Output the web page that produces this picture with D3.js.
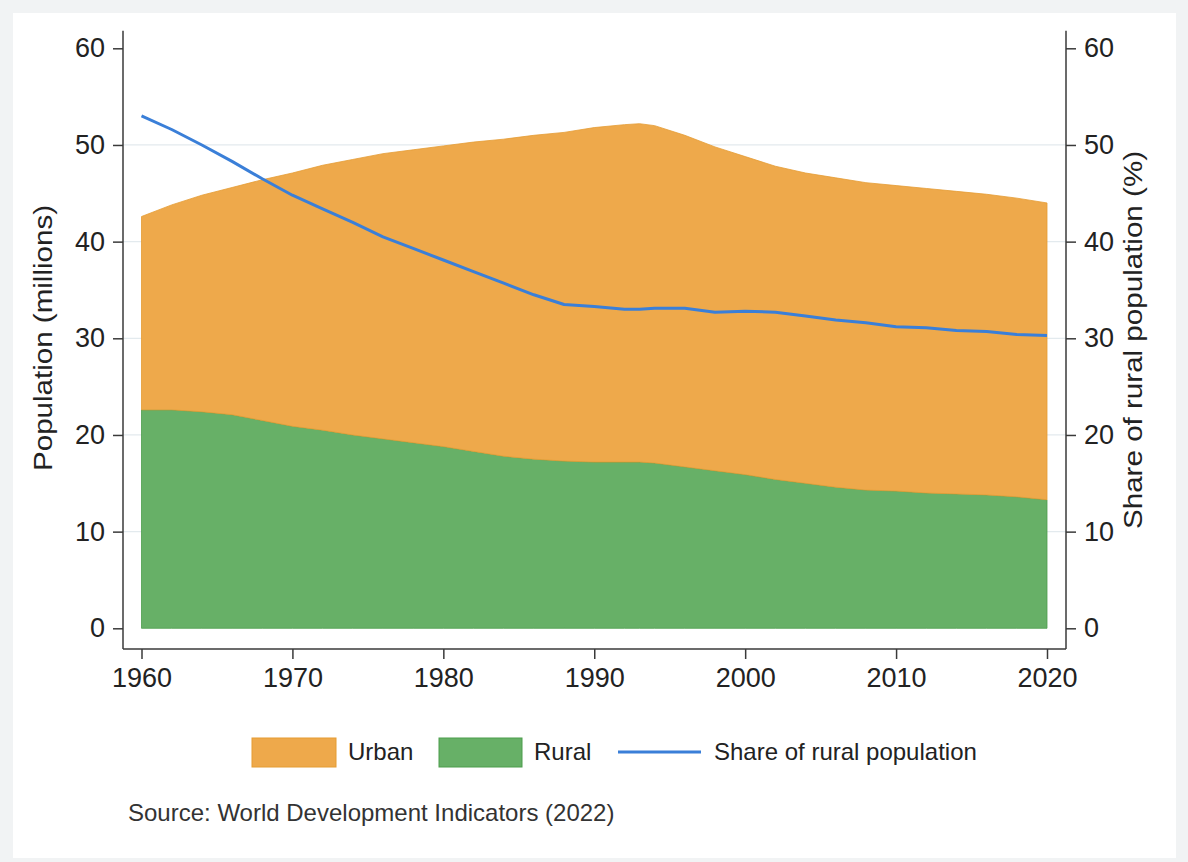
<!DOCTYPE html>
<html>
<head>
<meta charset="utf-8">
<script src="https://cdn.jsdelivr.net/npm/d3@7"></script>
<style>
  html, body { margin: 0; padding: 0; background: #f1f3f4; }
  svg { display: block; font-family: "Liberation Sans", Arial, Helvetica, sans-serif; }
</style>
</head>
<body>
<svg id="chart" width="1188" height="862"></svg>
<script>
// ---- Data ----
const years = [1960,1962,1964,1966,1968,1970,1972,1974,1976,1978,1980,1982,1984,1986,1988,1990,1992,1993,1994,1996,1998,2000,2002,2004,2006,2008,2010,2012,2014,2016,2018,2020];
const rural = [22.6,22.6,22.4,22.1,21.5,20.9,20.5,20.0,19.6,19.2,18.8,18.3,17.8,17.5,17.3,17.2,17.2,17.2,17.1,16.7,16.3,15.9,15.4,15.0,14.6,14.3,14.2,14.0,13.9,13.8,13.6,13.3];
const urban = [20.0,21.2,22.4,23.5,24.9,26.2,27.4,28.5,29.5,30.3,31.1,32.0,32.8,33.5,34.0,34.6,34.9,35.0,34.9,34.3,33.5,32.9,32.4,32.1,32.0,31.8,31.6,31.5,31.3,31.1,30.9,30.7];
const ruralShare = [53.0,51.6,50.0,48.3,46.5,44.8,43.4,42.0,40.5,39.3,38.1,36.9,35.7,34.5,33.5,33.3,33.0,33.0,33.1,33.1,32.7,32.8,32.7,32.3,31.9,31.6,31.2,31.1,30.8,30.7,30.4,30.3];
const xTicks = [1960,1970,1980,1990,2000,2010,2020];
const yTicks = [0,10,20,30,40,50,60];
const gridTicks = [10,20,30,40,50];
const legendItems = ["Urban","Rural","Share of rural population"];
const sourceNote = "Source: World Development Indicators (2022)";
const leftTitle = "Population (millions)";
const rightTitle = "Share of rural population (%)";

// ---- Styles ----
const C = {
  urban: "#eea94b", urbanEdge: "#e59c33",
  rural: "#67b067", ruralEdge: "#4c9d4c",
  line: "#3a7fd8",
  axis: "#3a3a3a", text: "#222", grid: "#e3eaee"
};

const svg = d3.select("#chart");
svg.append("rect").attr("x", 13).attr("y", 13).attr("width", 1163).attr("height", 845).attr("fill", "#ffffff");

const x = d3.scaleLinear().domain([1960, 2020]).range([141.5, 1047]);
const y = d3.scaleLinear().domain([0, 60]).range([628.3, 48.3]);
const y2 = d3.scaleLinear().domain([0, 60]).range([628.3, 48.3]);

const axL = 123, axR = 1066, axB = 649, axT = 30.7;

// grid
svg.append("g").selectAll("line").data(gridTicks).join("line")
  .attr("x1", axL).attr("x2", axR)
  .attr("y1", d => y(d)).attr("y2", d => y(d))
  .attr("stroke", C.grid).attr("stroke-width", 1.2);

// stacked areas
const rows = years.map((yr, i) => ({ year: yr, rural: rural[i], urban: urban[i] }));
const stack = d3.stack().keys(["rural", "urban"]);
const series = stack(rows);
const area = d3.area()
  .x(d => x(d.data.year))
  .y0(d => y(d[0]))
  .y1(d => y(d[1]));
const fills = { rural: C.rural, urban: C.urban };
const edges = { rural: C.ruralEdge, urban: C.urbanEdge };
svg.append("g").selectAll("path").data(series).join("path")
  .attr("d", area)
  .attr("fill", d => fills[d.key])
  .attr("stroke", d => edges[d.key])
  .attr("stroke-width", 0.8)
  .attr("stroke-linejoin", "round");

// share line
const line = d3.line().x((d, i) => x(years[i])).y(d => y2(d));
svg.append("path").datum(ruralShare)
  .attr("d", line)
  .attr("fill", "none")
  .attr("stroke", C.line)
  .attr("stroke-width", 3)
  .attr("stroke-linejoin", "round");

// axes
const axisG = svg.append("g").attr("stroke", C.axis).attr("stroke-width", 1.5);
axisG.append("line").attr("x1", axL).attr("x2", axL).attr("y1", axT).attr("y2", axB);
axisG.append("line").attr("x1", axR).attr("x2", axR).attr("y1", axT).attr("y2", axB);
axisG.append("line").attr("x1", axL).attr("x2", axR).attr("y1", axB).attr("y2", axB);

const left = svg.append("g").attr("transform", `translate(${axL},0)`)
  .call(d3.axisLeft(y).tickValues(yTicks).tickSize(10).tickPadding(8).tickFormat(d3.format("d")));
const right = svg.append("g").attr("transform", `translate(${axR},0)`)
  .call(d3.axisRight(y2).tickValues(yTicks).tickSize(10).tickPadding(8).tickFormat(d3.format("d")));
const bottom = svg.append("g").attr("transform", `translate(0,${axB})`)
  .call(d3.axisBottom(x).tickValues(xTicks).tickSize(10).tickPadding(6).tickFormat(d3.format("d")));
[left, right, bottom].forEach(g => {
  g.select(".domain").remove();
  g.selectAll(".tick line").attr("stroke", C.axis).attr("stroke-width", 1.5);
  g.selectAll(".tick text").attr("fill", C.text).attr("font-size", 27)
    .attr("font-family", '"Liberation Sans", Arial, sans-serif');
});
bottom.selectAll(".tick text").attr("dy", "0.8em");

// axis titles
svg.append("text")
  .attr("transform", "translate(52,338) rotate(-90)")
  .attr("text-anchor", "middle")
  .attr("font-size", 26).attr("fill", C.text)
  .attr("textLength", 266).attr("lengthAdjust", "spacingAndGlyphs")
  .text(leftTitle);
svg.append("text")
  .attr("transform", "translate(1142,340) rotate(-90)")
  .attr("text-anchor", "middle")
  .attr("font-size", 26).attr("fill", C.text)
  .attr("textLength", 378).attr("lengthAdjust", "spacingAndGlyphs")
  .text(rightTitle);

// legend
const lg = svg.append("g").attr("font-size", 24).attr("fill", C.text);
lg.append("rect").attr("x", 252).attr("y", 738).attr("width", 84).attr("height", 29)
  .attr("fill", C.urban).attr("stroke", C.urbanEdge).attr("stroke-width", 1);
lg.append("text").attr("x", 348).attr("y", 752).attr("dy", "0.35em").text(legendItems[0]);
lg.append("rect").attr("x", 439).attr("y", 738).attr("width", 83).attr("height", 29)
  .attr("fill", C.rural).attr("stroke", C.ruralEdge).attr("stroke-width", 1);
lg.append("text").attr("x", 534).attr("y", 752).attr("dy", "0.35em").text(legendItems[1]);
lg.append("line").attr("x1", 618).attr("x2", 701).attr("y1", 752).attr("y2", 752)
  .attr("stroke", C.line).attr("stroke-width", 3);
lg.append("text").attr("x", 714).attr("y", 752).attr("dy", "0.35em").text(legendItems[2]);

// source note
svg.append("text").attr("x", 128).attr("y", 813).attr("dy", "0.35em")
  .attr("font-size", 24).attr("fill", "#333").text(sourceNote);
</script>
</body>
</html>
